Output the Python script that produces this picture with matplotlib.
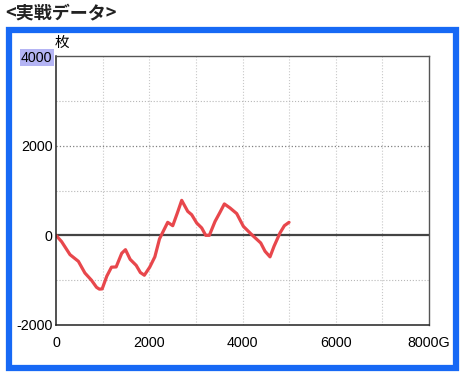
import matplotlib.pyplot as plt
from matplotlib import font_manager
from matplotlib.patches import Rectangle

# game count (G) and coin difference (枚)
games = [0, 120, 300, 480, 620, 760, 870, 930, 990, 1090, 1190, 1290, 1410, 1490,
         1590, 1720, 1810, 1895, 2010, 2120, 2220, 2300, 2396, 2504, 2603, 2696,
         2825, 2910, 3018, 3125, 3211, 3289, 3411, 3518, 3611, 3733, 3876, 4019,
         4198, 4391, 4483, 4590, 4676, 4805, 4898, 4998]
coins = [0, -140, -430, -580, -840, -1000, -1160, -1200, -1195, -910, -710, -705,
         -400, -320, -535, -670, -830, -890, -710, -480, -80, 90, 290, 215, 500,
         780, 535, 460, 275, 165, 0, 0, 310, 515, 700, 610, 485, 200, 15, -170,
         -355, -480, -245, 55, 215, 290]

x_ticks = [0, 2000, 4000, 6000, 8000]
x_labels = ["0", "2000", "4000", "6000", "8000G"]
y_ticks = [-2000, 0, 2000, 4000]
y_labels = ["-2000", "0", "2000", "4000"]

# narrow digits if available, else plain Liberation Sans
names = {f.name for f in font_manager.fontManager.ttflist}
if 'Liberation Sans Narrow' in names:
    num_font = ['Liberation Sans Narrow', 'DejaVu Sans']
    num_size = 11
else:
    num_font = ['Liberation Sans', 'DejaVu Sans']
    num_size = 10.3
jp_font = ['Noto Sans CJK JP', 'DejaVu Sans']

fig = plt.figure(figsize=(4.64, 3.74), dpi=100)
ax = fig.add_axes([56 / 464, 1 - 325 / 374, 373 / 464, 269 / 374])

# grid
for gx in range(1000, 8000, 1000):
    ax.axvline(gx, color='#c8c8c8', lw=0.8, ls=':', zorder=0)
for gy in [-1000, 1000, 3000]:
    ax.axhline(gy, color='#b8b8b8', lw=0.8, ls=':', zorder=0)
ax.axhline(2000, color='#808080', lw=0.9, ls=':', zorder=0)
ax.axhline(0, color='#444444', lw=1.6, zorder=1)

ax.plot(games, coins, color='#e8474c', lw=2.3, solid_capstyle='round',
        solid_joinstyle='round', zorder=2)

ax.set_xlim(0, 8000)
ax.set_ylim(-2000, 4000)
ax.set_xticks(x_ticks)
ax.set_xticklabels(x_labels, fontfamily=num_font, fontsize=num_size)
ax.set_yticks(y_ticks)
ax.set_yticklabels(y_labels, fontfamily=num_font, fontsize=num_size)
ax.tick_params(length=0)
ax.tick_params(axis='x', pad=8)
ax.tick_params(axis='y', pad=2.5)
ax.get_yticklabels()[-1].set_bbox(dict(facecolor='#b4b4f4', edgecolor='none', pad=1))

for side in ['left', 'bottom']:
    ax.spines[side].set_color('#222222')
    ax.spines[side].set_linewidth(1.1)
for side in ['top', 'right']:
    ax.spines[side].set_color('#555555')
    ax.spines[side].set_linewidth(1.0)

fig.text(55 / 464, 1 - 43 / 374, '枚', fontfamily=jp_font, fontsize=10.5, va='center')
fig.text(5 / 464, 1 - 13 / 374, '<実戦データ>', fontfamily=jp_font, fontsize=13,
         fontweight='bold', va='center', color='#222222')

# blue frame
fig.patches.append(Rectangle((9 / 464, 1 - 368 / 374), 447 / 464, 338 / 374,
                             transform=fig.transFigure, fill=False,
                             edgecolor='#1769f5', lw=4.5))

fig.savefig('out.png', dpi=100)
